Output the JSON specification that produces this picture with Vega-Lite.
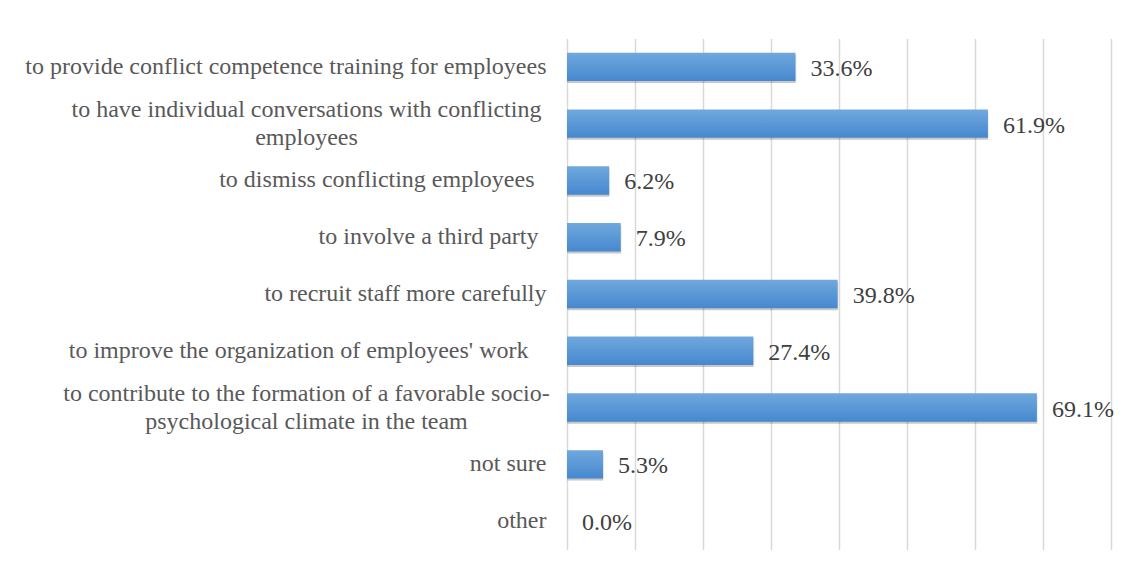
{
  "$schema": "https://vega.github.io/schema/vega-lite/v6.json",
  "width": 544,
  "height": 511,
  "autosize": {"type": "none"},
  "padding": {"left": 567, "top": 38.5, "right": 20, "bottom": 24.5},
  "background": "white",
  "config": {"view": {"stroke": null}},
  "data": {
    "values": [
      {"item": "to provide conflict competence training for employees", "share": 0.336},
      {"item": "to have individual conversations with conflicting|employees", "share": 0.619},
      {"item": "to dismiss conflicting employees", "share": 0.062},
      {"item": "to involve a third party", "share": 0.079},
      {"item": "to recruit staff more carefully", "share": 0.398},
      {"item": "to improve the organization of employees' work", "share": 0.274},
      {"item": "to contribute to the formation of a favorable socio-|psychological climate in the team", "share": 0.691},
      {"item": "not sure", "share": 0.053},
      {"item": "other", "share": 0.0}
    ]
  },
  "encoding": {
    "y": {
      "field": "item",
      "type": "nominal",
      "sort": null,
      "scale": {"paddingInner": 0.5, "paddingOuter": 0.25},
      "axis": {
        "title": null,
        "domain": false,
        "ticks": false,
        "labelExpr": "split(datum.label, '|')",
        "labelFont": "Liberation Serif, Times New Roman, DejaVu Serif, serif",
        "labelFontSize": 24,
        "labelColor": "#595959",
        "labelLineHeight": 28,
        "labelAlign": {"condition": {"test": "indexof(datum.value, '|') >= 0", "value": "center"}, "value": "right"},
        "labelOffset": {"condition": {"test": "indexof(datum.value, '|') >= 0", "value": -14}, "value": 0},
        "labelPadding": {
          "condition": [
            {"test": "indexof(datum.value, '|') >= 0", "value": 261},
            {"test": "datum.value === 'to improve the organization of employees\\' work'", "value": 39},
            {"test": "datum.value === 'to dismiss conflicting employees'", "value": 33},
            {"test": "datum.value === 'to involve a third party'", "value": 29}
          ],
          "value": 21
        },
        "labelLimit": 0
      }
    },
    "x": {
      "field": "share",
      "type": "quantitative",
      "scale": {"domain": [0, 0.8], "nice": false, "zero": true},
      "axis": {
        "title": null,
        "labels": false,
        "ticks": false,
        "domain": false,
        "values": [0, 0.1, 0.2, 0.3, 0.4, 0.5, 0.6, 0.7, 0.8],
        "grid": true,
        "gridColor": "#d9d9d9",
        "gridWidth": 1.5
      }
    }
  },
  "layer": [
    {
      "mark": {"type": "bar", "fill": "#000000", "opacity": 0.08, "yOffset": 2, "y2Offset": 6, "x2Offset": 5, "xOffset": 1},
      "encoding": {}
    },
    {
      "mark": {"type": "bar", "fill": "#000000", "opacity": 0.15, "yOffset": 2, "y2Offset": 3, "x2Offset": 2},
      "encoding": {}
    },
    {
      "mark": {
        "type": "bar",
        "fill": {
          "gradient": "linear",
          "x1": 0, "y1": 0, "x2": 0, "y2": 1,
          "stops": [
            {"offset": 0, "color": "#6fa8dd"},
            {"offset": 1, "color": "#4688cf"}
          ]
        }
      },
      "encoding": {}
    },
    {
      "mark": {"type": "text", "align": "left", "baseline": "middle", "dx": 15, "dy": 2, "font": "Liberation Serif, Times New Roman, DejaVu Serif, serif", "fontSize": 24, "fill": "#404040"},
      "encoding": {
        "text": {"field": "share", "type": "quantitative", "format": ".1%"}
      }
    }
  ]
}
